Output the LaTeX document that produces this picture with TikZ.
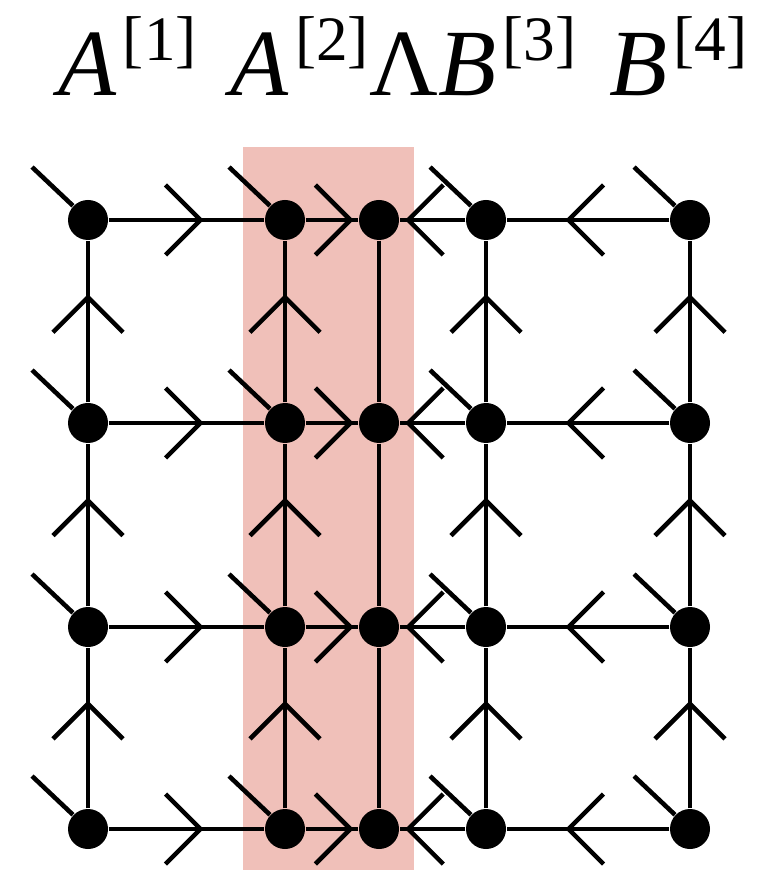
\documentclass[tikz,border=0pt]{standalone}
\usepackage{fontspec}
\setmainfont{Liberation Serif}
\usetikzlibrary{decorations.markings}
\definecolor{cutpink}{RGB}{240,192,185}
\newcommand{\siteidx}[2]{\textit{#1}\kern0.06cm\raisebox{0.35cm}{\fontsize{18}{19}\selectfont[#2]}}

\begin{document}
\begin{tikzpicture}[
    site/.style={circle, fill=black, inner sep=0pt, minimum size=0.4cm},
    bond/.style={line width=1.3pt},
    flow/.style={bond, postaction={decorate}, decoration={markings, mark=at position #1 with {\draw[line width=1.3pt] (-0.35,0.35) -- (0,0) -- (-0.35,-0.35);}}},
    heading/.style={font=\fontsize{27}{30}\selectfont, anchor=base west, inner sep=0pt}
]

    \useasboundingbox (0,0) rectangle (7.71,-8.70);

    % Cut band
    \fill[cutpink] (2.43,-1.47) rectangle (4.14,-8.70);

    % Headings
    \node[heading] (ta1) at (0.58,-0.96) {\siteidx{A}{1}};
    \node[heading] (ta2) at (2.30,-0.96) {\siteidx{A}{2}};
    \node[heading] (lam) at (3.69,-0.96) {Λ};
    \node[heading] (tb3) at (4.38,-0.96) {\siteidx{B}{3}};
    \node[heading] (tb4) at (6.09,-0.96) {\siteidx{B}{4}};

    % Sites
    \foreach \c/\x in {1/0.88, 2/2.85, 3/3.79, 4/4.86, 5/6.90}
      \foreach \r/\y in {1/-2.20, 2/-4.23, 3/-6.27, 4/-8.29}
        \node[site] (s\c\r) at (\x,\y) {};

    % Horizontal bonds
    \foreach \r in {1,...,4} {
      \draw[flow=0.59] (s1\r) -- (s2\r);
      \draw[flow=0.85] (s2\r) -- (s3\r);
      \draw[flow=0.87] (s4\r) -- (s3\r);
      \draw[flow=0.62] (s5\r) -- (s4\r);
    }

    % Vertical bonds
    \foreach \c in {1,2,4,5}
      \foreach \r/\u in {2/1, 3/2, 4/3}
        \draw[flow=0.65] (s\c\r) -- (s\c\u);
    \draw[bond] (s31) -- (s32) -- (s33) -- (s34);

    % Physical legs
    \foreach \c in {1,2,4,5}
      \foreach \r in {1,...,4}
        \draw[bond] (s\c\r) -- ++(136.6:0.77);

\end{tikzpicture}
\end{document}
